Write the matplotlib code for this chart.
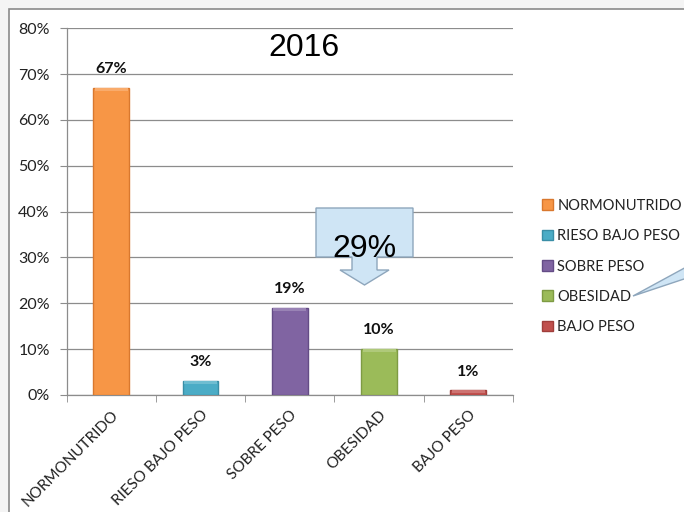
import matplotlib
matplotlib.use("Agg")
import matplotlib.pyplot as plt
from matplotlib.patches import Polygon, Rectangle
import matplotlib.colors as mcolors

categories = ["NORMONUTRIDO", "RIESO BAJO PESO", "SOBRE PESO", "OBESIDAD", "BAJO PESO"]
values = [0.67, 0.03, 0.19, 0.10, 0.01]
value_labels = ["67%", "3%", "19%", "10%", "1%"]
colors = ["#F79646", "#4BACC6", "#8064A2", "#9BBB59", "#C0504D"]
edge_colors = ["#D9782E", "#3A8EA6", "#644C86", "#7E9B44", "#A03E3B"]
yticks = [0, 0.1, 0.2, 0.3, 0.4, 0.5, 0.6, 0.7, 0.8]
ytick_labels = ["0%", "10%", "20%", "30%", "40%", "50%", "60%", "70%", "80%"]
title = "2016"
callout_text = "29%"

W, H = 684, 512
fig = plt.figure(figsize=(W / 100, H / 100), dpi=100)
fig.patch.set_facecolor("#f4f4f4")

def fx(px):
    return px / W

def fy(py):
    return 1 - py / H

def lighten(c, f):
    r, g, b = mcolors.to_rgb(c)
    return (r + (1 - r) * f, g + (1 - g) * f, b + (1 - b) * f)

# white chart area with frame
fig.patches.append(Rectangle((fx(9), -0.01), 1 - fx(9) + 0.02, fy(9) + 0.01, transform=fig.transFigure,
                             facecolor="white", edgecolor="#8a8a8a", linewidth=1.2, zorder=-10))

ax = fig.add_axes([fx(66.5), fy(395), fx(513) - fx(66.5), fy(28.3) - fy(395)])
ax.set_zorder(1)
ax.set_facecolor("white")
x = list(range(len(categories)))
bars = ax.bar(x, values, width=0.4, color=colors, edgecolor=edge_colors, linewidth=1, zorder=3)
for b, lab in zip(bars, categories):
    b.set_label(lab)

# subtle bevel highlight on top of each bar
bevel = 0.006
ax.bar(x, [min(bevel, v * 0.5) for v in values], bottom=[v - min(bevel, v * 0.5) for v in values],
       width=0.37, color=[lighten(c, 0.2) for c in colors], linewidth=0, zorder=4)

ax.set_xlim(-0.5, len(categories) - 0.5)
ax.set_ylim(0, 0.8)
ax.set_yticks(yticks)
ax.set_yticklabels(ytick_labels, fontsize=11.5, family="Lato", color="#222222")
ax.grid(axis="y", color="#8c8c8c", linewidth=0.9, zorder=0)
ax.set_axisbelow(True)
for s in ["top", "right"]:
    ax.spines[s].set_visible(False)
for s in ["left", "bottom"]:
    ax.spines[s].set_color("#8c8c8c")
    ax.spines[s].set_linewidth(0.9)
ax.tick_params(axis="y", length=5, color="#8c8c8c", pad=7)
ax.set_xticks(x)
ax.set_xticklabels(categories, rotation=45, ha="right", rotation_mode="anchor",
                   fontsize=11, family="Lato", color="#222222")
ax.tick_params(axis="x", which="major", length=0, pad=9)
ax.set_xticks([i - 0.5 for i in range(len(categories) + 1)], minor=True)
ax.tick_params(axis="x", which="minor", length=5, color="#8c8c8c")

for xi, v, lab in zip(x, values, value_labels):
    ax.annotate(lab, (xi, v), xytext=(0, 13.5), textcoords="offset points", ha="center", va="center",
                fontsize=11.5, fontweight="bold", family="Lato", color="#111111", zorder=5)

fig.text(fx(304), fy(48), title, ha="center", va="center", fontsize=23, family="Liberation Sans")

# 29% down-arrow callout
pts = [(316, 208), (413, 208), (413, 257), (377, 257), (377, 270), (389, 270), (364.5, 285),
       (340, 270), (352, 270), (352, 257), (316, 257)]
fig.patches.append(Polygon([(fx(a), fy(b)) for a, b in pts], closed=True, transform=fig.transFigure,
                           facecolor="#CFE5F5", edgecolor="#8EA6BC", linewidth=1, zorder=5))
fig.text(fx(364), fy(249), callout_text, ha="center", va="center", fontsize=23,
         family="Liberation Sans", zorder=6)

# legend
leg = fig.legend(handles=list(bars), labels=categories, loc="upper left",
                 bbox_to_anchor=(fx(536), fy(193)), frameon=False,
                 prop={"family": "Lato", "size": 10.5}, handlelength=0.75, handleheight=0.75,
                 handletextpad=0.3, labelspacing=1.12, borderaxespad=0)
for t in leg.get_texts():
    t.set_color("#222222")

# speech-bubble pointer
ptr = [(633, 296), (690, 265), (690, 277)]
fig.patches.append(Polygon([(fx(a), fy(b)) for a, b in ptr], closed=True, transform=fig.transFigure,
                           facecolor="#CFE5F5", edgecolor="#8EA6BC", linewidth=1, zorder=5))

fig.savefig("out.png", dpi=100, facecolor=fig.get_facecolor())
